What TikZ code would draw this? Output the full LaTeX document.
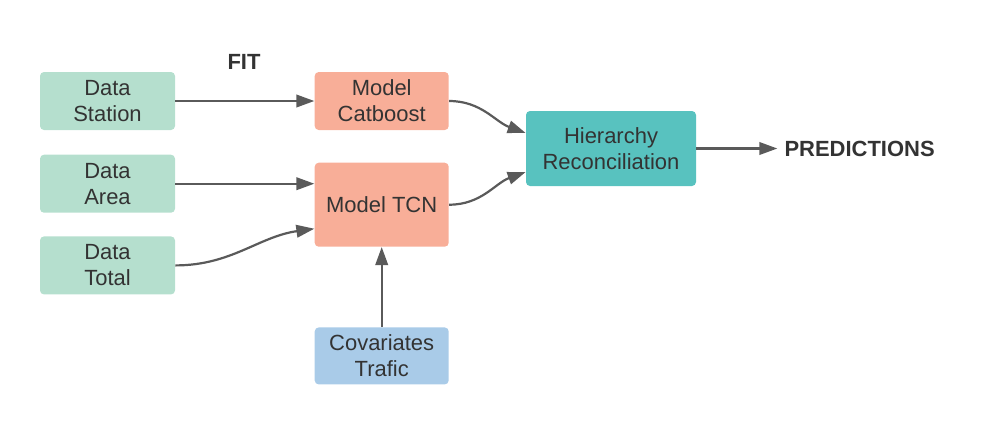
\documentclass[tikz,border=0pt]{standalone}
\usepackage{fontspec}
\setmainfont{Liberation Sans}
\usepackage{tikz}
\usetikzlibrary{positioning, arrows.meta}
\definecolor{vertdata}{HTML}{B5DFCE}
\definecolor{saumon}{HTML}{F8AE98}
\definecolor{turquoise}{HTML}{58C2BF}
\definecolor{bleucov}{HTML}{A9CBE8}
\definecolor{gristrait}{HTML}{5A5A5A}
\definecolor{texte}{HTML}{333333}

\begin{document}
\begin{tikzpicture}[fleche/.style={-{Triangle[length=0.36cm,width=0.25cm]}, gristrait, line width=1.25pt},
		boite/.style={rounded corners=0.08cm, align=center, text=texte, inner sep=0pt, font=\fontsize{12.5}{14.8}\selectfont},
		titre/.style={text=texte, font=\fontsize{12.5}{14.8}\selectfont\bfseries}]
		\useasboundingbox (0,0) rectangle (19.78,-8.48);
		
		%données
		\node[boite, fill=vertdata, minimum width=2.7cm, minimum height=1.16cm] (station) at (2.15,-2.02) {Data\\Station};
		\node[boite, fill=vertdata, minimum width=2.7cm, minimum height=1.16cm, below = 0.48cm of station] (area) {Data\\Area};
		\node[boite, fill=vertdata, minimum width=2.7cm, minimum height=1.16cm, below = 0.46cm of area] (total) {Data\\Total};
		
		%modèles
		\node[titre] (fit) at (4.88,-1.24) {FIT};
		\node[boite, fill=saumon, minimum width=2.68cm, minimum height=1.16cm, right = 2.78cm of station] (catboost) {Model\\Catboost};
		\node[boite, fill=saumon, minimum width=2.68cm, minimum height=1.68cm, below = 0.64cm of catboost] (tcn) {Model TCN};
		\node[boite, fill=bleucov, minimum width=2.68cm, minimum height=1.14cm, below = 1.6cm of tcn] (covar) {Covariates\\Trafic};
		
		%réconciliation
		\node[boite, fill=turquoise, minimum width=3.4cm, minimum height=1.5cm] (hier) at (12.22,-2.97) {Hierarchy\\Reconciliation};
		\coordinate[right = 1.62cm of hier.east] (predfin);
		\node[titre, right = 0.02cm of predfin] (pred) {PREDICTIONS};
		
		\draw (station) edge[fleche] (catboost);
		\draw (area.east) edge[fleche] ([yshift=0.42cm]tcn.west);
		\draw (total.east) edge[fleche, out=0, in=188] ([yshift=-0.48cm]tcn.west);
		\draw (covar) edge[fleche] (tcn);
		
		\draw (catboost.east) edge[fleche, out=0, in=160] ([yshift=0.31cm]hier.west);
		\draw (tcn.east) edge[fleche, out=0, in=200] ([yshift=-0.47cm]hier.west);
		
		\draw (hier.east) edge[fleche] (predfin);
		
	\end{tikzpicture}
\end{document}
